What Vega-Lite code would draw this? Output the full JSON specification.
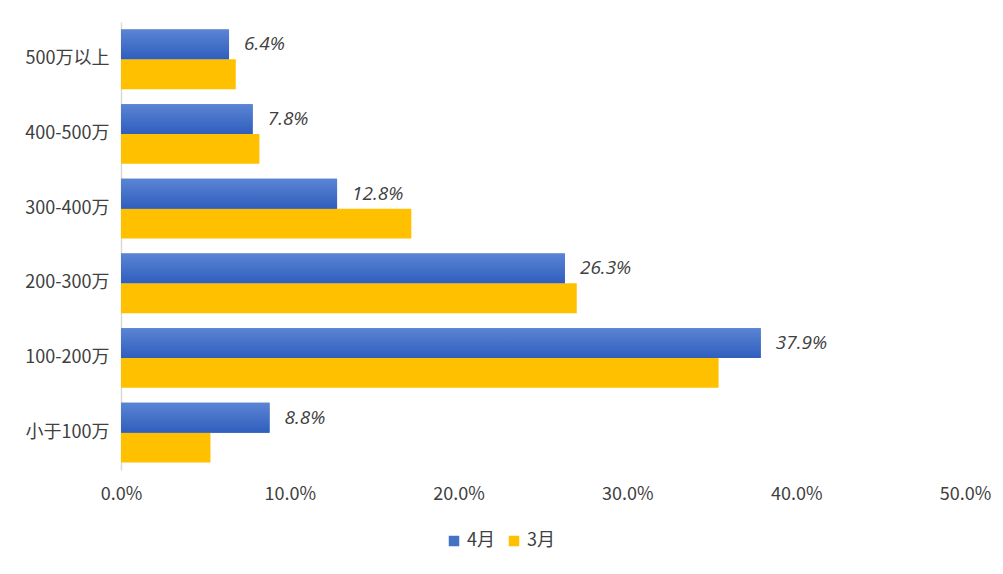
{
  "$schema": "https://vega.github.io/schema/vega-lite/v6.json",
  "autosize": {"type": "none"},
  "padding": {"left": 121, "top": 22, "right": 38, "bottom": 104},
  "width": 844,
  "height": 448,
  "background": "white",
  "config": {
    "font": "Noto Sans CJK SC",
    "view": {"stroke": null}
  },
  "data": {
    "values": [
      {"range": "500万以上", "series": "4月", "value": 0.064},
      {"range": "500万以上", "series": "3月", "value": 0.068},
      {"range": "400-500万", "series": "4月", "value": 0.078},
      {"range": "400-500万", "series": "3月", "value": 0.082},
      {"range": "300-400万", "series": "4月", "value": 0.128},
      {"range": "300-400万", "series": "3月", "value": 0.172},
      {"range": "200-300万", "series": "4月", "value": 0.263},
      {"range": "200-300万", "series": "3月", "value": 0.270},
      {"range": "100-200万", "series": "4月", "value": 0.379},
      {"range": "100-200万", "series": "3月", "value": 0.354},
      {"range": "小于100万", "series": "4月", "value": 0.088},
      {"range": "小于100万", "series": "3月", "value": 0.053}
    ]
  },
  "encoding": {
    "y": {
      "field": "range",
      "type": "nominal",
      "sort": ["500万以上", "400-500万", "300-400万", "200-300万", "100-200万", "小于100万"],
      "scale": {"paddingInner": 0.2, "paddingOuter": 0.1},
      "axis": {
        "title": null,
        "ticks": false,
        "domainColor": "#d9d9d9",
        "domainWidth": 1.5,
        "labelFontSize": 18,
        "labelColor": "#404040",
        "labelPadding": 12
      }
    },
    "x": {
      "field": "value",
      "type": "quantitative",
      "scale": {"domain": [0, 0.5]},
      "axis": {
        "title": null,
        "format": ".1%",
        "values": [0, 0.1, 0.2, 0.3, 0.4, 0.5],
        "labelOverlap": false,
        "labelBound": false,
        "labelFlush": false,
        "grid": false,
        "domain": false,
        "ticks": false,
        "labelFontSize": 18,
        "labelColor": "#404040",
        "labelPadding": 15
      }
    },
    "yOffset": {"field": "series", "type": "nominal", "sort": ["4月", "3月"]}
  },
  "layer": [
    {
      "mark": {"type": "bar"},
      "encoding": {
        "color": {
          "field": "series",
          "type": "nominal",
          "sort": ["4月", "3月"],
          "scale": {"domain": ["4月", "3月"], "range": ["#4472c4", "#ffc000"]},
          "legend": {
            "title": null,
            "orient": "none",
            "legendX": 324,
            "legendY": 510,
            "direction": "horizontal",
            "symbolType": "square",
            "symbolSize": 110,
            "labelFontSize": 18,
            "labelColor": "#404040",
            "columnPadding": 10,
            "labelOffset": 4,
            "symbolStrokeWidth": 0
          }
        }
      }
    },
    {
      "transform": [{"filter": "datum.series === '4月'"}],
      "mark": {
        "type": "bar",
        "fill": {
          "gradient": "linear",
          "x1": 0, "y1": 0, "x2": 0, "y2": 1,
          "stops": [
            {"offset": 0, "color": "#5b84d4"},
            {"offset": 1, "color": "#2f5ebd"}
          ]
        }
      }
    },
    {
      "transform": [{"filter": "datum.series === '4月'"}],
      "mark": {
        "type": "text",
        "align": "left",
        "baseline": "middle",
        "dx": 15,
        "fontStyle": "italic",
        "fontSize": 19,
        "color": "#404040",
        "font": "Open Sans"
      },
      "encoding": {
        "text": {"field": "value", "type": "quantitative", "format": ".1%"}
      }
    }
  ]
}
